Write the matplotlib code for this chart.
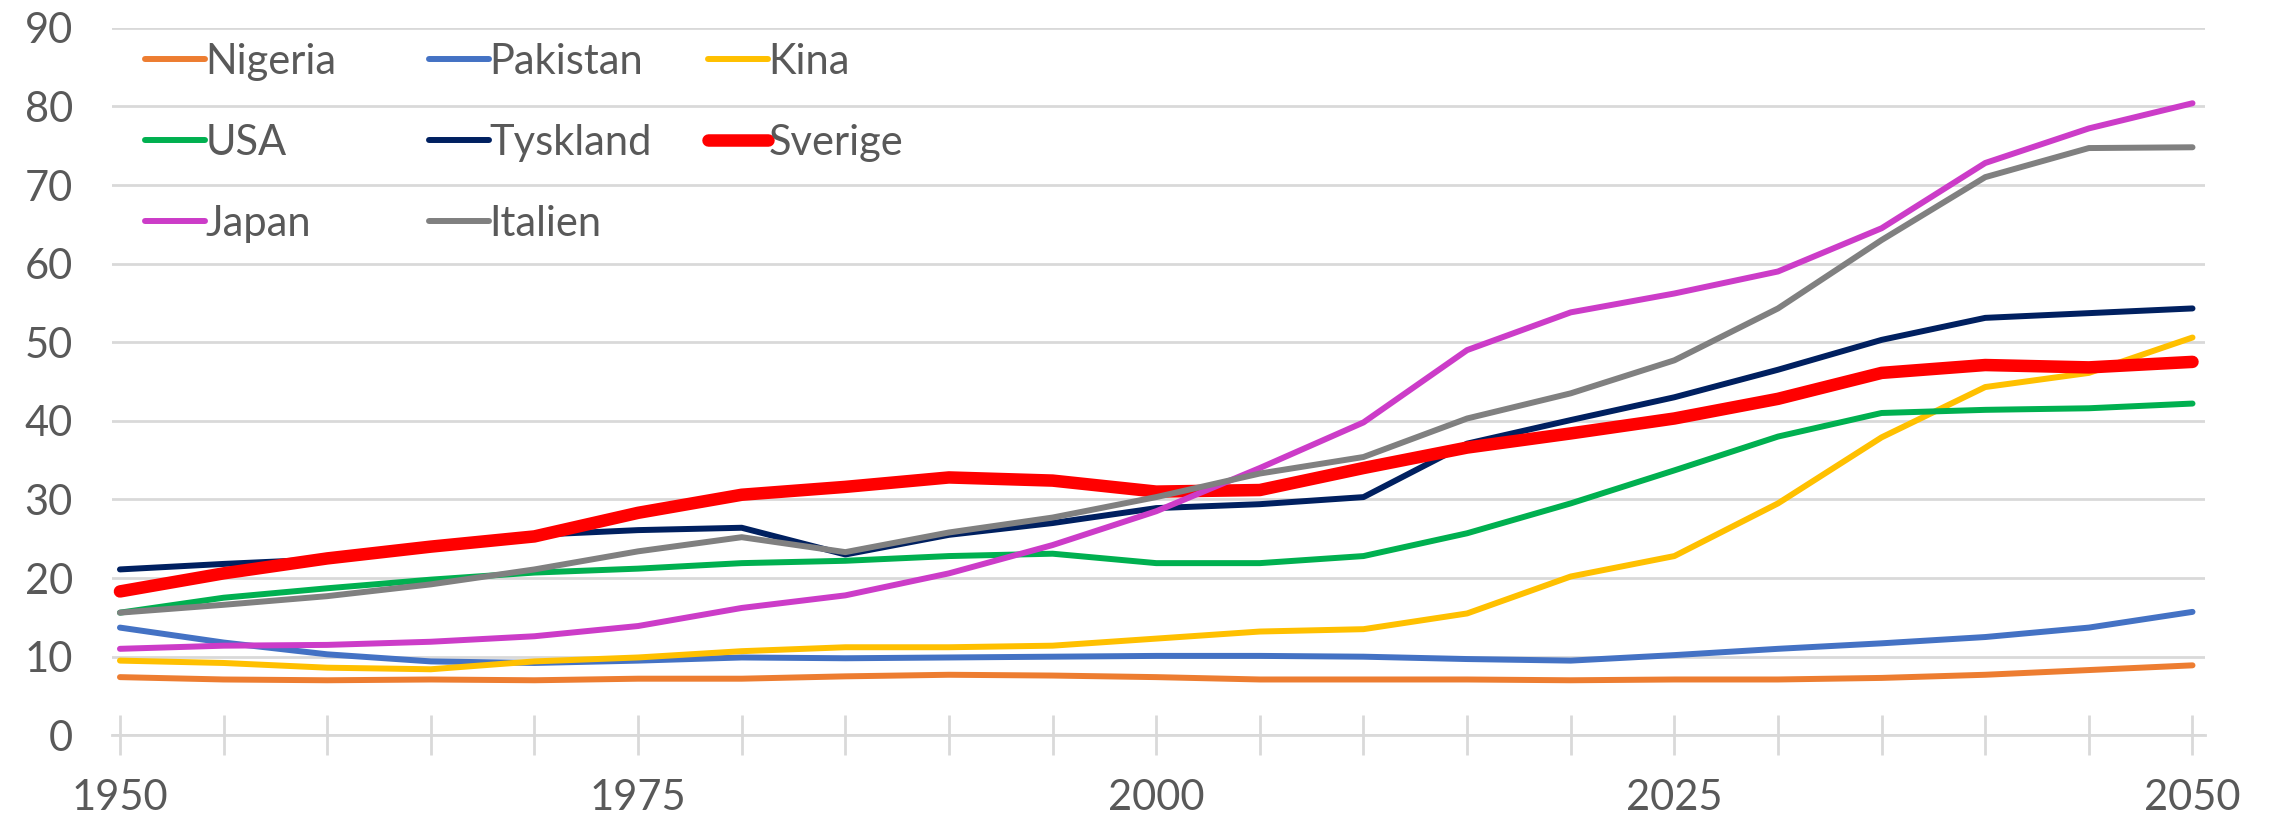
import matplotlib.pyplot as plt
from matplotlib.ticker import MultipleLocator, FixedLocator

FONTSIZE = 30
plt.rcParams['font.family'] = ['Lato', 'DejaVu Sans']

# Data: at 5-year steps
years = list(range(1950, 2051, 5))

nigeria = [7.4, 7.1, 7.0, 7.1, 7.0, 7.2, 7.2, 7.5, 7.7, 7.6, 7.4,
           7.1, 7.1, 7.1, 7.0, 7.1, 7.1, 7.3, 7.7, 8.3, 8.9]
pakistan = [13.7, 11.8, 10.3, 9.4, 9.2, 9.5, 9.9, 9.8, 9.9, 10.0, 10.1,
            10.1, 10.0, 9.7, 9.5, 10.2, 11.0, 11.7, 12.5, 13.7, 15.7]
kina = [9.5, 9.2, 8.6, 8.4, 9.4, 9.9, 10.7, 11.2, 11.2, 11.4, 12.3,
        13.2, 13.5, 15.5, 20.2, 22.8, 29.5, 37.9, 44.3, 46.1, 50.6]
usa = [15.6, 17.5, 18.7, 19.8, 20.7, 21.2, 21.9, 22.2, 22.8, 23.1, 21.9,
       21.9, 22.8, 25.7, 29.5, 33.7, 38.0, 41.0, 41.4, 41.6, 42.2]
tyskland = [21.1, 21.8, 22.4, 24.3, 25.5, 26.1, 26.4, 23.0, 25.5, 27.0, 28.9,
            29.4, 30.3, 37.1, 40.1, 43.0, 46.5, 50.3, 53.1, 53.7, 54.3]
sverige = [18.3, 20.6, 22.5, 24.0, 25.3, 28.3, 30.6, 31.6, 32.8, 32.4, 31.0,
           31.2, 34.0, 36.6, 38.4, 40.3, 42.8, 46.1, 47.1, 46.8, 47.5]
japan = [11.0, 11.4, 11.5, 11.9, 12.6, 13.9, 16.2, 17.8, 20.6, 24.2, 28.5,
         34.0, 39.8, 49.0, 53.8, 56.2, 59.0, 64.5, 72.8, 77.2, 80.4]
italien = [15.6, 16.6, 17.7, 19.2, 21.1, 23.4, 25.2, 23.3, 25.8, 27.7, 30.3,
           33.3, 35.4, 40.3, 43.5, 47.7, 54.3, 63.0, 71.0, 74.7, 74.8]

names = ['Nigeria', 'Pakistan', 'Kina', 'USA', 'Tyskland', 'Sverige', 'Japan', 'Italien']
values = [nigeria, pakistan, kina, usa, tyskland, sverige, japan, italien]
colors = ['#ED7D31', '#4472C4', '#FFC000', '#00B050', '#002060', '#FF0000', '#CC3CC8', '#808080']
widths = [4.3, 4.3, 4.3, 4.3, 4.3, 9, 4.3, 4.3]

fig = plt.figure(figsize=(22.79, 8.17), dpi=100)
ax = fig.add_axes([0.049, 0.100, 0.9185, 0.866])

lines = {}
for name, vals, c, lw in zip(names, values, colors, widths):
    lines[name], = ax.plot(years, vals, color=c, linewidth=lw,
                           solid_capstyle='round', solid_joinstyle='round')

ax.set_ylim(0, 90)
ax.set_xlim(1949.6, 2050.6)
ax.yaxis.set_major_locator(MultipleLocator(10))
ax.grid(axis='y', color='#D9D9D9', linewidth=2)
ax.set_axisbelow(True)

# x ticks every 5 years, labels every 25
ax.xaxis.set_major_locator(FixedLocator([1950, 1975, 2000, 2025, 2050]))
ax.xaxis.set_minor_locator(MultipleLocator(5))
ax.tick_params(axis='x', which='both', direction='inout', length=29, width=2,
               color='#D9D9D9', labelsize=FONTSIZE, labelcolor='#595959', pad=17)
ax.tick_params(axis='y', which='both', length=0, labelsize=FONTSIZE,
               labelcolor='#595959', pad=28)

for s in ['top', 'right', 'left']:
    ax.spines[s].set_visible(False)
ax.spines['bottom'].set_color('#D9D9D9')
ax.spines['bottom'].set_linewidth(2)

# legend: three columns placed separately, rows read left to right
columns = [['Nigeria', 'USA', 'Japan'], ['Pakistan', 'Tyskland', 'Italien'], ['Kina', 'Sverige']]
col_x = [145, 429, 708]
for col, x in zip(columns, col_x):
    leg = fig.legend([lines[n] for n in col], col, loc='upper left',
                     bbox_to_anchor=(x / 2279, 1 - 43 / 817), frameon=False,
                     fontsize=FONTSIZE, handlelength=1.45, handletextpad=0.0,
                     labelspacing=1.03, borderaxespad=0, borderpad=0)
    for t in leg.get_texts():
        t.set_color('#595959')

fig.savefig('out.png', dpi=100)
